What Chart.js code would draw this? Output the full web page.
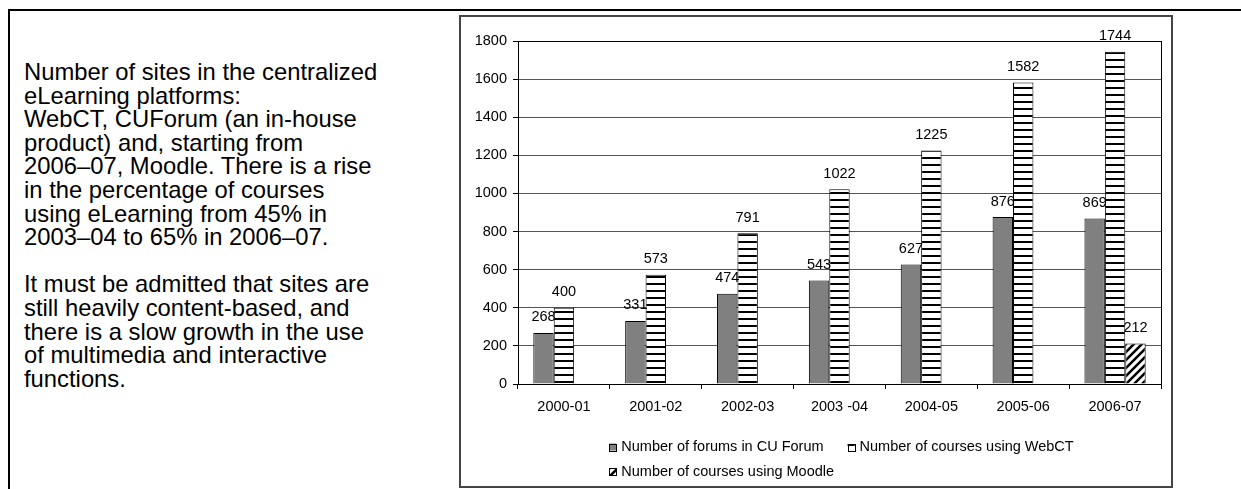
<!DOCTYPE html>
<html>
<head>
<meta charset="utf-8">
<script src="https://cdn.jsdelivr.net/npm/chart.js@4.4.0/dist/chart.umd.min.js"></script>
<style>
  body { margin: 0; width: 1241px; height: 489px; background: #fff; position: relative; overflow: hidden; }
  #topline { position: absolute; left: 8px; top: 9px; right: 0; height: 2px; background: #000; }
  #leftline { position: absolute; left: 8px; top: 9px; bottom: 0; width: 2px; background: #000; }
  #note {
    position: absolute; left: 24px; top: 60px;
    font-family: "Liberation Sans", Arial, sans-serif; font-size: 23.8px; line-height: 23.6px; color: #000;
    white-space: nowrap;
  }
  #box { position: absolute; left: 459px; top: 15px; width: 710px; height: 469px; border: 2px solid #444; }
  #barchart { display: block; }
</style>
</head>
<body>
<div id="topline"></div>
<div id="leftline"></div>
<div id="note">
Number of sites in the centralized<br>
eLearning platforms:<br>
WebCT, CUForum (an in-house<br>
product) and, starting from<br>
2006–07, Moodle. There is a rise<br>
in the percentage of courses<br>
using eLearning from 45% in<br>
2003–04 to 65% in 2006–07.<br>
<br>
It must be admitted that sites are<br>
still heavily content-based, and<br>
there is a slow growth in the use<br>
of multimedia and interactive<br>
functions.
</div>
<div id="box"><canvas id="barchart" width="710" height="469"></canvas></div>
<script>
const categories = ['2000-01', '2001-02', '2002-03', '2003 -04', '2004-05', '2005-06', '2006-07'];
const forumCounts = [268, 331, 474, 543, 627, 876, 869];
const webctCourses = [400, 573, 791, 1022, 1225, 1582, 1744];
const moodleCourses = [null, null, null, null, null, null, 212];
const seriesNames = ['Number of forums in CU Forum', 'Number of courses using WebCT', 'Number of courses using Moodle'];
const yMin = 0, yMax = 1800, yStep = 200;

const FONT = '"Liberation Sans", Arial, sans-serif';
Chart.defaults.font.family = FONT;
Chart.defaults.font.size = 14.5;
Chart.defaults.color = '#000';

// hatch fills like the old office patterns
function stripes() {
  const c = document.createElement('canvas');
  c.width = 8; c.height = 7;
  const g = c.getContext('2d');
  g.fillStyle = '#fff'; g.fillRect(0, 0, 8, 7);
  g.fillStyle = '#000'; g.fillRect(0, 0, 8, 2);
  return g.createPattern(c, 'repeat');
}
function diagonal() {
  const c = document.createElement('canvas');
  c.width = 8; c.height = 8;
  const g = c.getContext('2d');
  g.fillStyle = '#fff'; g.fillRect(0, 0, 8, 8);
  g.strokeStyle = '#000'; g.lineWidth = 2.6;
  g.beginPath();
  g.moveTo(-2, 10); g.lineTo(10, -2);
  g.moveTo(-2, 2); g.lineTo(2, -2);
  g.moveTo(6, 10); g.lineTo(10, 6);
  g.stroke();
  return g.createPattern(c, 'repeat');
}

const valueLabels = {
  id: 'valueLabels',
  afterDatasetsDraw(chart) {
    const ctx = chart.ctx;
    ctx.save();
    ctx.font = '14.5px ' + FONT;
    ctx.fillStyle = '#000';
    ctx.textAlign = 'center';
    ctx.textBaseline = 'alphabetic';
    chart.data.datasets.forEach((ds, i) => {
      chart.getDatasetMeta(i).data.forEach((bar, j) => {
        if (ds.data[j] == null) return;
        ctx.fillText(ds.data[j], bar.x, bar.y - 11.5);
      });
    });
    ctx.restore();
  }
};

// plot area frame (top + right sides)
const plotFrame = {
  id: 'plotFrame',
  afterDraw(chart) {
    const a = chart.chartArea, ctx = chart.ctx;
    ctx.save();
    ctx.strokeStyle = '#000';
    ctx.lineWidth = 1;
    ctx.strokeRect(Math.round(a.left) + 0.5, Math.round(a.top) + 0.5, Math.round(a.right - a.left), Math.round(a.bottom - a.top));
    ctx.restore();
  }
};

const bottomLegend = {
  id: 'bottomLegend',
  afterDraw(chart) {
    const a = chart.chartArea, ctx = chart.ctx;
    ctx.save();
    ctx.font = '14.5px ' + FONT;
    ctx.textBaseline = 'middle';
    const items = chart.data.datasets.map(ds => ({
      label: ds.label, fill: ds.backgroundColor,
      w: 12 + ctx.measureText(ds.label).width
    }));
    const rowW = items[0].w + 24 + items[1].w;
    const x0 = (a.left + a.right) / 2 - rowW / 2 + 2;
    const spots = [
      [x0, a.bottom + 63],
      [x0 + items[0].w + 24, a.bottom + 63],
      [x0, a.bottom + 87.5]
    ];
    items.forEach((it, i) => {
      const [x, y] = spots[i];
      ctx.fillStyle = it.fill;
      ctx.fillRect(x, y - 3.5, 7, 7);
      ctx.strokeStyle = '#000';
      ctx.lineWidth = 1;
      ctx.strokeRect(Math.round(x) + 0.5, Math.round(y - 3.5) + 0.5, 7, 7);
      ctx.fillStyle = '#000';
      ctx.fillText(it.label, x + 12, y);
    });
    ctx.restore();
  }
};

const ctx = document.getElementById('barchart');

new Chart(ctx, {
  type: 'bar',
  data: {
    labels: categories,
    datasets: [
      {
        label: seriesNames[0],
        data: forumCounts,
        backgroundColor: '#808080',
        borderColor: '#000',
        borderWidth: 1
      },
      {
        label: seriesNames[1],
        data: webctCourses,
        backgroundColor: stripes(),
        borderColor: '#000',
        borderWidth: 1
      },
      {
        label: seriesNames[2],
        data: moodleCourses,
        backgroundColor: diagonal(),
        borderColor: '#000',
        borderWidth: 1
      }
    ]
  },
  options: {
    responsive: false,
    animation: false,
    categoryPercentage: 3 / 4.5,
    barPercentage: 1,
    layout: { padding: { left: 0, right: 10, top: 24, bottom: 0 } },
    plugins: {
      legend: { display: false },
      tooltip: { enabled: false }
    },
    scales: {
      x: {
        grid: { drawOnChartArea: false, tickLength: 5, tickColor: '#000', color: '#000' },
        border: { color: '#000', width: 1 },
        ticks: { padding: 9, maxRotation: 0, autoSkip: false },
        afterFit(scale) { scale.height = 102; }
      },
      y: {
        min: yMin,
        max: yMax,
        grid: { color: '#555', tickLength: 5, tickColor: '#000' },
        border: { color: '#000', width: 1 },
        ticks: { stepSize: yStep, padding: 6, callback: v => String(v) },
        afterFit(scale) { scale.width = 57; }
      }
    }
  },
  plugins: [valueLabels, plotFrame, bottomLegend]
});
</script>
</body>
</html>
